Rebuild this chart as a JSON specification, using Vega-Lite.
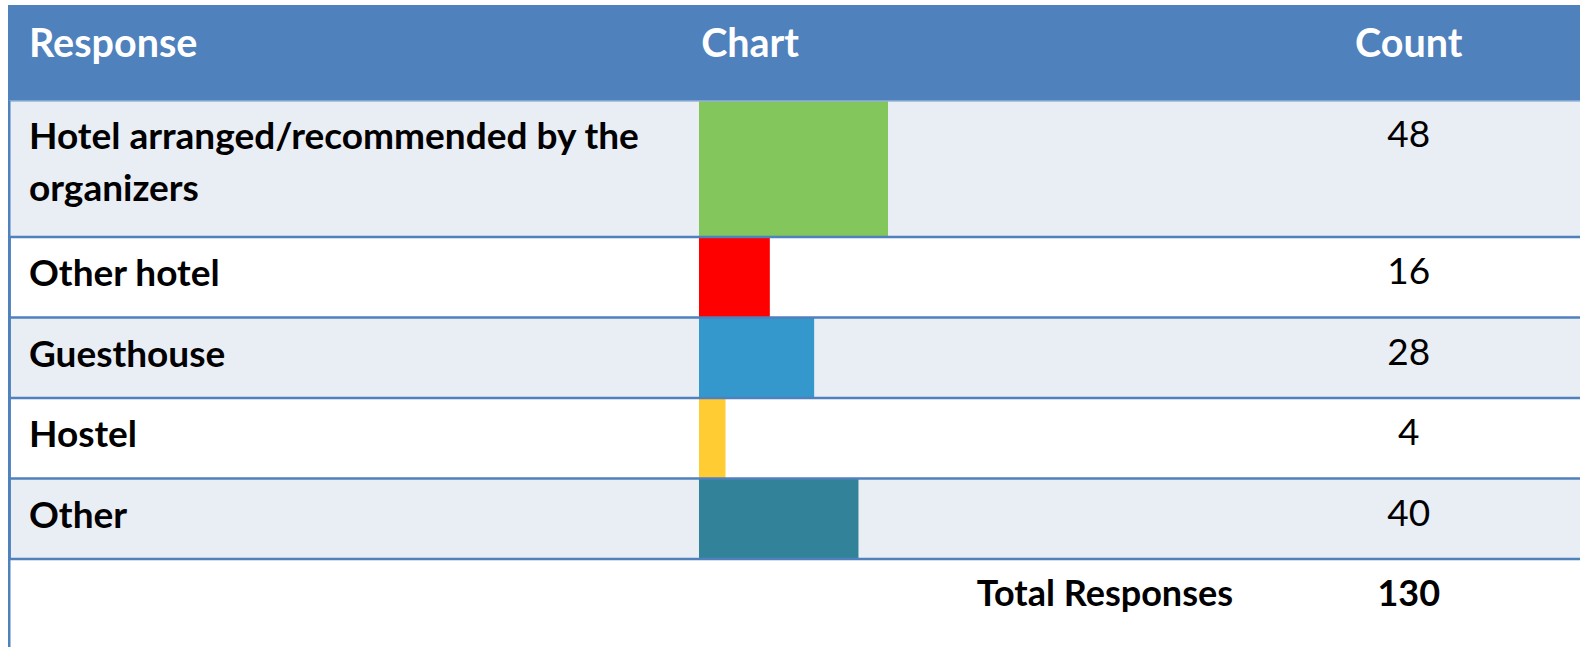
{
  "$schema": "https://vega.github.io/schema/vega-lite/v6.json",
  "padding": {"left": 8, "top": 5, "right": 0, "bottom": 0},
  "autosize": {"type": "pad"},
  "spacing": 0,
  "bounds": "flush",
  "background": "white",
  "config": {"view": {"stroke": null}, "axis": {"disable": true}, "text": {"font": "Lato"}},
  "datasets": {
    "columns": [{"Column": "Response"}, {"Column": "Chart"}, {"Column": "Count"}],
    "rows": [
      {"Response": "Hotel arranged/recommended by the\norganizers", "Count": 48},
      {"Response": "Other hotel", "Count": 16},
      {"Response": "Guesthouse", "Count": 28},
      {"Response": "Hostel", "Count": 4},
      {"Response": "Other", "Count": 40}
    ],
    "total": [{"Label": "Total Responses", "Total": 130}]
  },
  "resolve": {"scale": {"x": "independent", "y": "independent"}},
  "vconcat": [
    {
      "width": 1572,
      "height": 96,
      "view": {"fill": "#4F81BD", "stroke": null},
      "data": {"name": "columns"},
      "layer": [
        {
          "transform": [{"filter": "datum.Column == 'Response'"}],
          "mark": {"type": "text", "align": "left", "baseline": "alphabetic", "dy": 4, "fontSize": 39.5, "fontWeight": "bold", "color": "white", "font": "Lato"},
          "encoding": {
            "x": {"datum": -184.6, "type": "quantitative", "axis": null, "scale": {"domain": [-190.29, 235.38], "nice": false, "zero": false}},
            "text": {"field": "Column"}
          }
        },
        {
          "transform": [{"filter": "datum.Column == 'Chart'"}],
          "mark": {"type": "text", "align": "left", "baseline": "alphabetic", "dy": 4, "fontSize": 39.5, "fontWeight": "bold", "color": "white", "font": "Lato"},
          "encoding": {
            "x": {"datum": -2.6, "type": "quantitative", "axis": null},
            "text": {"field": "Column"}
          }
        },
        {
          "transform": [{"filter": "datum.Column == 'Count'"}],
          "mark": {"type": "text", "align": "center", "baseline": "alphabetic", "dy": 4, "fontSize": 39.5, "fontWeight": "bold", "color": "white", "font": "Lato"},
          "encoding": {
            "x": {"datum": 189.0, "type": "quantitative", "axis": null},
            "text": {"field": "Column"}
          }
        }
      ]
    },
    {
      "width": 1572,
      "height": 136,
      "view": {"fill": "#E9EDF4", "stroke": null},
      "data": {"name": "rows"},
      "transform": [{"filter": "indexof(datum.Response, 'Hotel arranged') == 0"}],
      "layer": [
        {
          "mark": {"type": "bar"},
          "encoding": {
            "y": {"field": "Response", "type": "nominal", "axis": null, "scale": {"paddingInner": 0, "paddingOuter": 0}},
            "x": {"field": "Count", "type": "quantitative", "axis": null, "scale": {"domain": [-190.29, 235.38], "nice": false, "zero": false}},
            "x2": {"datum": -3.18},
            "color": {
              "field": "Response", "type": "nominal", "legend": null,
              "scale": {
                "domain": ["Hotel arranged/recommended by the\norganizers", "Other hotel", "Guesthouse", "Hostel", "Other"],
                "range": ["#82C65C", "#FF0000", "#3498CC", "#FFCC33", "#32839A"]
              }
            }
          }
        },
        {
          "mark": {"type": "text", "align": "left", "baseline": "alphabetic", "dy": 48, "fontSize": 37, "fontWeight": "bold", "color": "black", "lineBreak": "\n", "lineHeight": 52, "font": "Lato"},
          "encoding": {
            "y": {"field": "Response", "type": "nominal", "bandPosition": 0, "axis": null},
            "x": {"datum": -184.6, "type": "quantitative", "axis": null},
            "text": {"field": "Response"}
          }
        },
        {
          "mark": {"type": "text", "align": "center", "baseline": "alphabetic", "dy": 46, "fontSize": 37, "fontWeight": "normal", "color": "black", "font": "Lato"},
          "encoding": {
            "y": {"field": "Response", "type": "nominal", "bandPosition": 0, "axis": null},
            "x": {"datum": 189.0, "type": "quantitative", "axis": null},
            "text": {"field": "Count"}
          }
        },
        {
          "mark": {"type": "rule", "color": "#95B3D7", "strokeWidth": 1.5},
          "encoding": {
            "y": {"field": "Response", "type": "nominal", "bandPosition": 0, "axis": null},
            "x": {"datum": -189.95, "type": "quantitative", "axis": null},
            "x2": {"datum": 235.38}
          }
        },
        {
          "mark": {"type": "rule", "color": "#4F81BD", "strokeWidth": 2.5},
          "encoding": {"x": {"datum": -189.95, "type": "quantitative", "axis": null}}
        }
      ]
    },
    {
      "width": 1572,
      "height": 322,
      "view": {"fill": "white", "stroke": null},
      "data": {"name": "rows"},
      "transform": [{"filter": {"field": "Response", "oneOf": ["Other hotel", "Guesthouse", "Hostel", "Other"]}}],
      "layer": [
        {
          "transform": [{"filter": {"field": "Response", "oneOf": ["Guesthouse", "Other"]}}],
          "mark": {"type": "rect", "color": "#E9EDF4"},
          "encoding": {
            "y": {"field": "Response", "type": "nominal", "axis": null, "scale": {"domain": ["Other hotel", "Guesthouse", "Hostel", "Other"], "paddingInner": 0, "paddingOuter": 0}}
          }
        },
        {
          "mark": {"type": "bar"},
          "encoding": {
            "y": {"field": "Response", "type": "nominal", "axis": null},
            "x": {"field": "Count", "type": "quantitative", "axis": null, "scale": {"domain": [-190.29, 235.38], "nice": false, "zero": false}},
            "x2": {"datum": -3.18},
            "color": {"field": "Response", "type": "nominal", "legend": null}
          }
        },
        {
          "mark": {"type": "text", "align": "left", "baseline": "alphabetic", "dy": 49, "fontSize": 37, "fontWeight": "bold", "color": "black", "font": "Lato"},
          "encoding": {
            "y": {"field": "Response", "type": "nominal", "bandPosition": 0, "axis": null},
            "x": {"datum": -184.6, "type": "quantitative", "axis": null},
            "text": {"field": "Response"}
          }
        },
        {
          "mark": {"type": "text", "align": "center", "baseline": "alphabetic", "dy": 47, "fontSize": 37, "fontWeight": "normal", "color": "black", "font": "Lato"},
          "encoding": {
            "y": {"field": "Response", "type": "nominal", "bandPosition": 0, "axis": null},
            "x": {"datum": 189.0, "type": "quantitative", "axis": null},
            "text": {"field": "Count"}
          }
        },
        {
          "mark": {"type": "rule", "color": "#4F81BD", "strokeWidth": 2.5},
          "encoding": {
            "y": {"field": "Response", "type": "nominal", "bandPosition": 0, "axis": null},
            "x": {"datum": -189.95, "type": "quantitative", "axis": null},
            "x2": {"datum": 235.38}
          }
        },
        {
          "mark": {"type": "rule", "color": "#4F81BD", "strokeWidth": 2.5},
          "encoding": {"x": {"datum": -189.95, "type": "quantitative", "axis": null}}
        }
      ]
    },
    {
      "width": 1572,
      "height": 88,
      "view": {"fill": "white", "stroke": null},
      "data": {"name": "total"},
      "layer": [
        {
          "mark": {"type": "rule", "color": "#4F81BD", "strokeWidth": 2.5},
          "encoding": {
            "y": {"field": "Label", "type": "nominal", "bandPosition": 0, "axis": null, "scale": {"paddingInner": 0, "paddingOuter": 0}},
            "x": {"datum": -189.95, "type": "quantitative", "axis": null, "scale": {"domain": [-190.29, 235.38], "nice": false, "zero": false}},
            "x2": {"datum": 235.38}
          }
        },
        {
          "mark": {"type": "text", "align": "right", "baseline": "alphabetic", "dy": 47, "fontSize": 36, "fontWeight": "bold", "color": "black", "font": "Lato"},
          "encoding": {
            "y": {"field": "Label", "type": "nominal", "bandPosition": 0, "axis": null},
            "x": {"datum": 141.42, "type": "quantitative", "axis": null},
            "text": {"field": "Label"}
          }
        },
        {
          "mark": {"type": "text", "align": "center", "baseline": "alphabetic", "dy": 47, "fontSize": 36, "fontWeight": "bold", "color": "black", "font": "Lato"},
          "encoding": {
            "y": {"field": "Label", "type": "nominal", "bandPosition": 0, "axis": null},
            "x": {"datum": 189.0, "type": "quantitative", "axis": null},
            "text": {"field": "Total"}
          }
        },
        {
          "mark": {"type": "rule", "color": "#4F81BD", "strokeWidth": 2.5},
          "encoding": {"x": {"datum": -189.95, "type": "quantitative", "axis": null}}
        }
      ]
    }
  ]
}
